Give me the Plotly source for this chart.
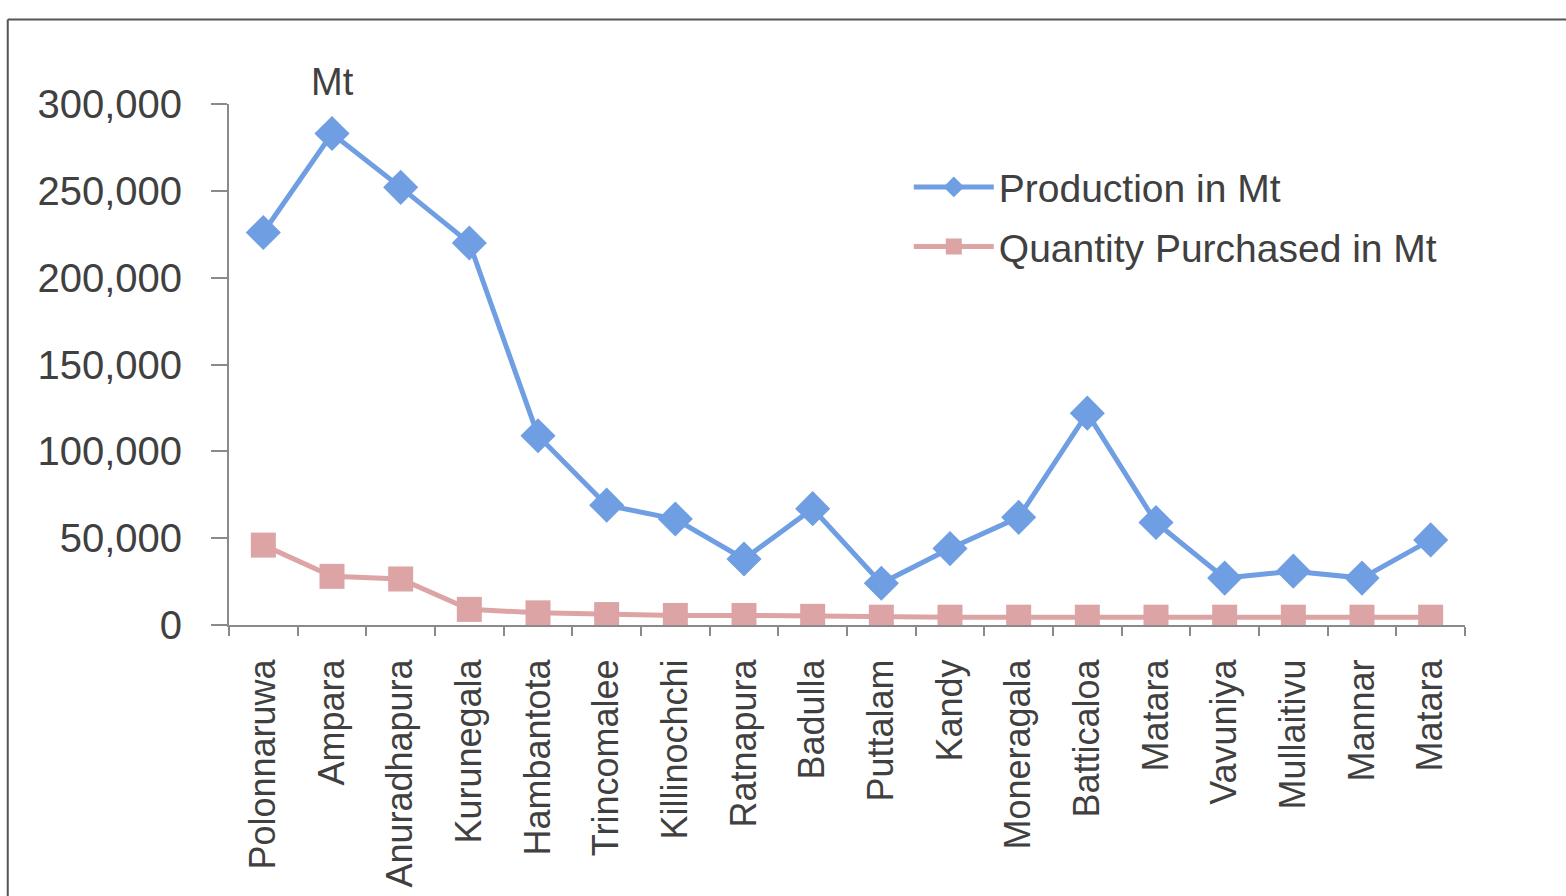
import plotly.graph_objects as go

districts = ["Polonnaruwa", "Ampara", "Anuradhapura", "Kurunegala", "Hambantota",
             "Trincomalee", "Killinochchi", "Ratnapura", "Badulla", "Puttalam",
             "Kandy", "Moneragala", "Batticaloa", "Matara", "Vavuniya",
             "Mullaitivu", "Mannar", "Matara"]
production = [226000, 283000, 252000, 220000, 109000, 69000, 61000, 38000, 67000,
              24000, 44000, 62000, 122000, 59000, 27000, 31000, 27000, 49000]
purchased = [46000, 28000, 26500, 9000, 7000, 6000, 5500, 5500, 5000,
             4500, 4500, 4500, 4500, 4500, 4500, 4500, 4500, 4500]
y_ticks = [0, 50000, 100000, 150000, 200000, 250000, 300000]
y_tick_text = ["0", "50,000", "100,000", "150,000", "200,000", "250,000", "300,000"]

x = list(range(len(districts)))
boundaries = [i - 0.5 for i in range(len(districts) + 1)]

text_color = "#404040"
font_family = "Liberation Sans, Arial, sans-serif"

fig = go.Figure()
fig.add_trace(go.Scatter(
    x=x, y=production, name="Production in Mt", mode="lines+markers",
    legendgroup="a",
    line=dict(color="#6f9ee3", width=5),
    marker=dict(symbol="diamond", size=27, color="#6f9ee3"),
))
fig.add_trace(go.Scatter(
    x=x, y=purchased, name="Quantity Purchased in Mt", mode="lines+markers",
    legendgroup="b",
    line=dict(color="#dca4a4", width=5),
    marker=dict(symbol="square", size=25, color="#dca4a4"),
))

fig.update_layout(
    width=1566, height=896,
    margin=dict(l=229, r=101, t=104, b=271),
    paper_bgcolor="white", plot_bgcolor="white",
    font=dict(family=font_family, color=text_color),
    showlegend=True,
    legend=dict(x=0.55, y=0.902, xanchor="left", yanchor="top",
                font=dict(size=39, color=text_color), bgcolor="rgba(0,0,0,0)",
                itemwidth=80, tracegroupgap=6),
    xaxis=dict(
        range=[-0.5, len(districts) - 0.5], automargin=False,
        tickmode="array", tickvals=x, ticktext=districts,
        tickangle=-90, tickfont=dict(size=36, color=text_color),
        ticks="", showgrid=False, zeroline=False,
        showline=True, linecolor="#8a8a8a", linewidth=2,
        minor=dict(tickmode="array", tickvals=boundaries, ticks="outside",
                   ticklen=9, tickcolor="#8a8a8a", tickwidth=2, showgrid=False),
        ticklabelstandoff=18,
    ),
    yaxis=dict(
        range=[0, 300000], automargin=False,
        tickmode="array", tickvals=y_ticks, ticktext=y_tick_text,
        tickfont=dict(size=40, color=text_color),
        ticks="outside", ticklen=16, tickcolor="#8a8a8a", tickwidth=2,
        showgrid=False, zeroline=False,
        showline=True, linecolor="#8a8a8a", linewidth=2,
        ticklabelstandoff=21,
    ),
    annotations=[dict(text="Mt", xref="x", yref="paper", x=1, y=0.998,
                      xanchor="center", yanchor="bottom", showarrow=False,
                      font=dict(size=38, color=text_color))],
    shapes=[
        dict(type="line", xref="paper", yref="paper", x0=-0.179, x1=1.09,
             y0=1.162, y1=1.162, line=dict(color="#555555", width=2)),
        dict(type="line", xref="paper", yref="paper", x0=-0.179, x1=-0.179,
             y0=1.162, y1=-0.55, line=dict(color="#555555", width=2)),
    ],
)

fig.write_html("out.html")
